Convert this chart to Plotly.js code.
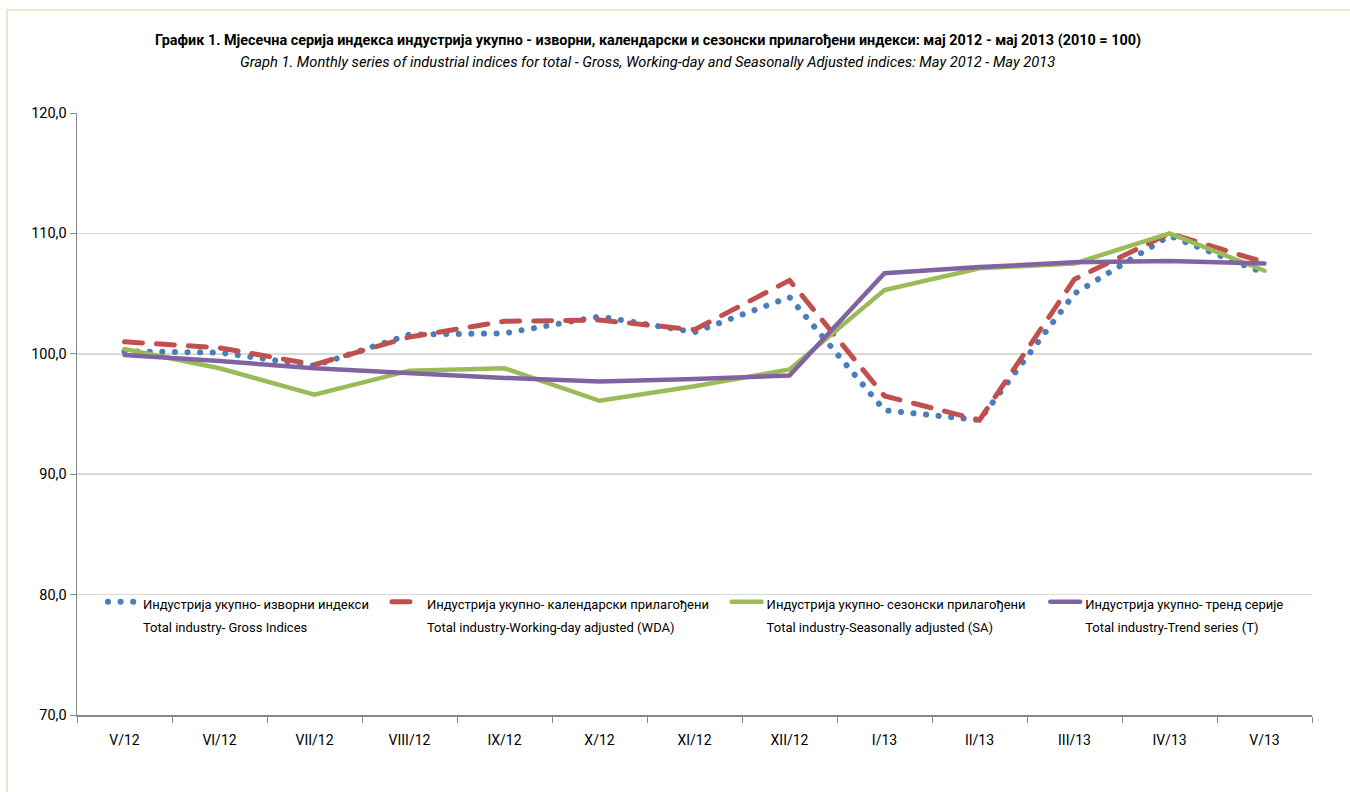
<!DOCTYPE html>
<html>
<head>
<meta charset="utf-8">
<script src="https://cdn.plot.ly/plotly-3.0.1.min.js"></script>
<style>
  html, body { margin: 0; padding: 0; background: #ffffff; }
  #frame { position: absolute; left: 6px; top: 9px; width: 1400px; height: 900px;
           border-left: 2px solid #ebe5d0; border-top: 2px solid #ebe5d0; }
  #chart { position: absolute; left: 0; top: 0; width: 1350px; height: 792px; }
</style>
</head>
<body>
<div id="frame"></div>
<div id="chart"></div>
<script>
const categories = ["V/12","VI/12","VII/12","VIII/12","IX/12","X/12","XI/12","XII/12","I/13","II/13","III/13","IV/13","V/13"];
const grossIndices = [100.2, 100.1, 99.0, 101.6, 101.7, 103.1, 101.8, 104.7, 95.3, 94.5, 105.0, 109.8, 106.7];
const wdaIndices   = [101.0, 100.5, 99.1, 101.4, 102.7, 102.8, 102.0, 106.1, 96.5, 94.5, 106.2, 110.0, 107.6];
const saIndices    = [100.4, 98.8, 96.6, 98.6, 98.8, 96.1, 97.3, 98.7, 105.3, 107.1, 107.5, 110.0, 106.9];
const trendSeries  = [99.9, 99.4, 98.8, 98.4, 98.0, 97.7, 97.9, 98.2, 106.7, 107.2, 107.6, 107.7, 107.5];

const namesSr = [
  "Индустрија укупно- изворни индекси",
  "Индустрија укупно- календарски прилагођени",
  "Индустрија укупно- сезонски прилагођени",
  "Индустрија укупно- тренд серије"
];
const namesEn = [
  "Total industry- Gross Indices",
  "Total industry-Working-day adjusted (WDA)",
  "Total industry-Seasonally adjusted (SA)",
  "Total industry-Trend series (T)"
];
const yTicks = [70, 80, 90, 100, 110, 120];

const FONT = "Roboto, 'Liberation Sans', sans-serif";

function legendName(i) {
  return '<span style="font-size:13px">' + namesSr[i] + '</span><br><span style="font-size:13px">' + namesEn[i] + '</span>';
}

const traces = [
  { x: categories, y: grossIndices, name: legendName(0), legend: "legend", type: "scatter", mode: "lines",
    line: { color: "#4a7ebb", width: 6, dash: "0.1px,12.5px" } },
  { x: categories, y: wdaIndices, name: legendName(1), legend: "legend2", type: "scatter", mode: "lines",
    line: { color: "#c0504d", width: 5, dash: "18px,14px" } },
  { x: categories, y: saIndices, name: legendName(2), legend: "legend3", type: "scatter", mode: "lines",
    line: { color: "#9bbb59", width: 4.5 } },
  { x: categories, y: trendSeries, name: legendName(3), legend: "legend4", type: "scatter", mode: "lines",
    line: { color: "#8064a2", width: 4.5 } }
];

function legendAt(x) {
  return {
    orientation: "h",
    x: x, y: 0.218, xanchor: "left", yanchor: "top",
    bgcolor: "rgba(0,0,0,0)",
    font: { family: FONT, size: 17.7, color: "#000000" },
    valign: "top"
  };
}

const layout = {
  width: 1350, height: 792,
  margin: { l: 77, r: 38, t: 113, b: 77 },
  paper_bgcolor: "rgba(0,0,0,0)",
  plot_bgcolor: "rgba(0,0,0,0)",
  separators: ",.",
  font: { family: FONT, size: 14, color: "#000000" },
  title: {
    text: "<b>График 1. Мјесечна серија индекса индустрија укупно - изворни, календарски и сезонски прилагођени индекси: мај 2012 - мај 2013 (2010 = 100)</b>",
    font: { family: FONT, size: 14.4, color: "#000000" },
    x: 0.48, xanchor: "center", y: 0.949, yanchor: "middle"
  },
  annotations: [{
    text: "<i>Graph 1. Monthly series of industrial indices for total - Gross, Working-day and Seasonally Adjusted indices: May 2012 - May 2013</i>",
    xref: "paper", yref: "paper", x: 0.462, y: 1.084, xanchor: "center", yanchor: "middle",
    showarrow: false, font: { family: FONT, size: 14.7, color: "#000000" }
  }],
  xaxis: {
    type: "category",
    range: [-0.5, 12.5],
    showline: true, linecolor: "#888888", linewidth: 1.5,
    ticks: "outside", ticklen: 6, tickcolor: "#888888", tickson: "boundaries",
    showgrid: false, zeroline: false,
    ticklabelstandoff: 12,
    tickfont: { family: FONT, size: 14, color: "#000000" }
  },
  yaxis: {
    range: [70, 120],
    tickvals: yTicks,
    tickformat: ".1f",
    showline: true, linecolor: "#888888", linewidth: 1.5,
    ticks: "outside", ticklen: 6, tickcolor: "#888888",
    showgrid: true, gridcolor: "#d9d9d9", gridwidth: 1.5,
    zeroline: false,
    tickfont: { family: FONT, size: 14.5, color: "#000000" }
  },
  showlegend: true,
  legend: legendAt(0.021),
  legend2: legendAt(0.251),
  legend3: legendAt(0.526),
  legend4: legendAt(0.784)
};

Plotly.newPlot("chart", traces, layout, { displayModeBar: false, staticPlot: true }).then(function () {
  document.querySelectorAll("#chart path.js-line").forEach(function (p) {
    p.style.strokeLinecap = "round";
  });
});
</script>
</body>
</html>
